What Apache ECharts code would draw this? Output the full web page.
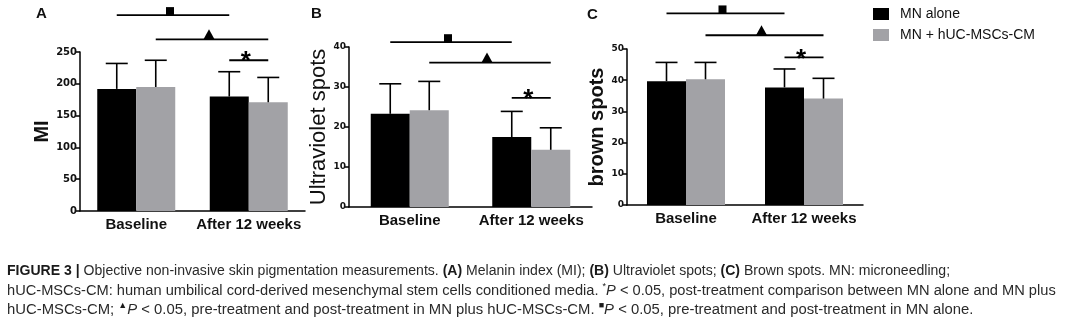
<!DOCTYPE html>
<html>
<head>
<meta charset="utf-8">
<script src="https://cdn.jsdelivr.net/npm/echarts@6/dist/echarts.min.js"></script>
<style>
  html, body { margin: 0; padding: 0; background: #fff; }
  #chart { width: 1080px; height: 327px; }
</style>
</head>
<body>
<div id="chart"></div>
<script>
// ---- data ----
const categories = ['Baseline', 'After 12 weeks'];
const groupNames = ['MN alone', 'MN + hUC-MSCs-CM'];

// (A) Melanin index (MI): mean and SD per time point
const miAlone = [192, 180];
const miAloneSd = [40, 39];
const miCombo = [195, 171];
const miComboSd = [42, 39];
const miTicks = [0, 50, 100, 150, 200, 250];

// (B) Ultraviolet spots
const uvAlone = [23.3, 17.5];
const uvAloneSd = [7.5, 6.4];
const uvCombo = [24.2, 14.3];
const uvComboSd = [7.2, 5.5];
const uvTicks = [0, 10, 20, 30, 40];

// (C) Brown spots
const brownAlone = [39.7, 37.7];
const brownAloneSd = [6.0, 5.9];
const brownCombo = [40.3, 34.1];
const brownComboSd = [5.4, 6.5];
const brownTicks = [0, 10, 20, 30, 40, 50];

// significance brackets: [category, group] endpoints (group 0 = MN alone, 1 = MN + hUC-MSCs-CM)
const miBrackets = [
  { from: [0, 0], to: [1, 0], level: 308, mark: 'square' },
  { from: [0, 1], to: [1, 1], level: 270, mark: 'triangle' },
  { from: [1, 0], to: [1, 1], level: 237, mark: 'star' }
];
const uvBrackets = [
  { from: [0, 0], to: [1, 0], level: 41.2, mark: 'square' },
  { from: [0, 1], to: [1, 1], level: 36.1, mark: 'triangle' },
  { from: [1, 0], to: [1, 1], level: 27.3, mark: 'star' }
];
const brownBrackets = [
  { from: [0, 0], to: [1, 0], level: 61.4, mark: 'square' },
  { from: [0, 1], to: [1, 1], level: 54.4, mark: 'triangle' },
  { from: [1, 0], to: [1, 1], level: 47.3, mark: 'star' }
];

// ---- styling / layout ----
const BAR_W = 39;
const INK = '#111';
const BLACK = '#000';
const GREY = '#a2a2a6';
const SANS = '"Liberation Sans", Arial, Helvetica, sans-serif';

const panels = [
  {
    letter: 'A', letterPos: [36, 6],
    rect: { left: 80, top: 52, width: 225, height: 159 },
    ticks: miTicks, tickFont: { fontFamily: '"DejaVu Sans", sans-serif', fontSize: 10 },
    title: 'MI', titleFont: { fontSize: 20, fontWeight: 'bold' }, nameGap: 27,
    alone: miAlone, aloneSd: miAloneSd, combo: miCombo, comboSd: miComboSd,
    brackets: miBrackets
  },
  {
    letter: 'B', letterPos: [311, 6],
    rect: { left: 349, top: 47, width: 243, height: 160 },
    ticks: uvTicks, tickFont: { fontFamily: '"DejaVu Sans", sans-serif', fontSize: 9 },
    title: 'Ultraviolet spots', titleFont: { fontSize: 22, fontWeight: 'normal' }, nameGap: 17,
    alone: uvAlone, aloneSd: uvAloneSd, combo: uvCombo, comboSd: uvComboSd,
    brackets: uvBrackets
  },
  {
    letter: 'C', letterPos: [587, 7],
    rect: { left: 627, top: 49, width: 236, height: 156 },
    ticks: brownTicks, tickFont: { fontFamily: '"DejaVu Sans", sans-serif', fontSize: 9 },
    title: 'brown spots', titleFont: { fontSize: 20, fontWeight: 'bold' }, nameGap: 20,
    alone: brownAlone, aloneSd: brownAloneSd, combo: brownCombo, comboSd: brownComboSd,
    brackets: brownBrackets
  }
];

const sideOffset = side => (side === 0 ? -1 : 1) * BAR_W / 2;

// upper-only error bars with a cap
function renderErrorBar(params, api) {
  const cat = api.value(0), side = api.value(1), mean = api.value(2), sd = api.value(3);
  const base = api.coord([cat, mean]);
  const top = api.coord([cat, mean + sd]);
  const x = base[0] + sideOffset(side);
  const style = { stroke: BLACK, lineWidth: 1.6 };
  return {
    type: 'group',
    children: [
      { type: 'line', shape: { x1: x, y1: base[1], x2: x, y2: top[1] }, style },
      { type: 'line', shape: { x1: x - 11, y1: top[1], x2: x + 11, y2: top[1] }, style }
    ]
  };
}

// significance brackets with their symbols
function makeBracketRenderer(list) {
  return function (params, api) {
    const item = list[params.dataIndex];
    const p1 = api.coord([item.from[0], item.level]);
    const p2 = api.coord([item.to[0], item.level]);
    const x1 = p1[0] + sideOffset(item.from[1]);
    const x2 = p2[0] + sideOffset(item.to[1]);
    const y = p1[1];
    const mx = (x1 + x2) / 2 - 3;
    const children = [
      { type: 'line', shape: { x1, y1: y, x2, y2: y }, style: { stroke: BLACK, lineWidth: 1.8 } }
    ];
    if (item.mark === 'square') {
      children.push({ type: 'rect', shape: { x: mx - 4, y: y - 8, width: 8, height: 8 }, style: { fill: BLACK } });
    } else if (item.mark === 'triangle') {
      children.push({ type: 'polygon', shape: { points: [[mx - 5.5, y], [mx + 5.5, y], [mx, y - 10]] }, style: { fill: BLACK } });
    } else {
      children.push({
        type: 'text',
        style: { text: '*', x: mx, y: y + 2, fontSize: 26, fontWeight: 'bold', fontFamily: SANS, fill: BLACK, align: 'center', verticalAlign: 'middle' }
      });
    }
    return { type: 'group', children };
  };
}

const grids = [], xAxes = [], yAxes = [], series = [], graphics = [];

panels.forEach((p, i) => {
  grids.push(Object.assign({ containLabel: false }, p.rect));

  xAxes.push({
    type: 'category', gridIndex: i, data: categories,
    axisLine: { lineStyle: { color: BLACK, width: 1.5 } },
    axisTick: { alignWithLabel: true, length: 4, lineStyle: { color: BLACK, width: 1.5 } },
    axisLabel: { interval: 0, fontFamily: SANS, fontWeight: 'bold', fontSize: 15, color: INK, margin: 6 }
  });

  yAxes.push({
    type: 'value', gridIndex: i,
    min: p.ticks[0], max: p.ticks[p.ticks.length - 1], interval: p.ticks[1] - p.ticks[0],
    splitLine: { show: false },
    axisLine: { show: true, lineStyle: { color: BLACK, width: 1.5 } },
    axisTick: { show: true, length: 4, lineStyle: { color: BLACK, width: 1.5 } },
    axisLabel: Object.assign({ fontWeight: 'bold', color: INK, margin: 3 }, p.tickFont),
    name: p.title, nameLocation: 'middle', nameGap: p.nameGap, nameRotate: 90,
    nameTextStyle: Object.assign({ fontFamily: SANS, color: INK }, p.titleFont)
  });

  series.push({
    type: 'bar', name: groupNames[0], xAxisIndex: i, yAxisIndex: i,
    data: p.alone, barWidth: BAR_W, barGap: '0%', itemStyle: { color: BLACK }, z: 2
  });
  series.push({
    type: 'bar', name: groupNames[1], xAxisIndex: i, yAxisIndex: i,
    data: p.combo, barWidth: BAR_W, barGap: '0%', itemStyle: { color: GREY }, z: 2
  });

  const errData = [];
  p.alone.forEach((v, c) => errData.push([c, 0, v, p.aloneSd[c]]));
  p.combo.forEach((v, c) => errData.push([c, 1, v, p.comboSd[c]]));
  series.push({
    type: 'custom', xAxisIndex: i, yAxisIndex: i, z: 3, silent: true,
    encode: { x: 0, y: 2 }, data: errData, renderItem: renderErrorBar
  });

  series.push({
    type: 'custom', xAxisIndex: i, yAxisIndex: i, z: 3, silent: true, clip: false,
    encode: { x: 0, y: 2 },
    data: p.brackets.map(b => [b.from[0], b.from[1], b.level]),
    renderItem: makeBracketRenderer(p.brackets)
  });

  graphics.push({
    type: 'text', left: p.letterPos[0], top: p.letterPos[1],
    style: { text: p.letter, fontFamily: SANS, fontWeight: 'bold', fontSize: 15, fill: INK }
  });
});

// figure caption
function captionRich(size) {
  return {
    b: { fontFamily: SANS, fontSize: size, fontWeight: 'bold', fill: '#1a1a1a' },
    i: { fontFamily: SANS, fontSize: size, fontStyle: 'italic', fill: '#2a2a2a' },
    sup: { fontFamily: SANS, fontSize: 9, fill: '#1a1a1a', verticalAlign: 'top', lineHeight: 9 }
  };
}
const captionLines = [
  { size: 14.05, text: '{b|FIGURE 3 |} Objective non-invasive skin pigmentation measurements. {b|(A)} Melanin index (MI); {b|(B)} Ultraviolet spots; {b|(C)} Brown spots. MN: microneedling;' },
  { size: 14.65, text: 'hUC-MSCs-CM: human umbilical cord-derived mesenchymal stem cells conditioned media. {sup|*}{i|P} < 0.05, post-treatment comparison between MN alone and MN plus' },
  { size: 14.85, text: 'hUC-MSCs-CM; {sup|▲}{i|P} < 0.05, pre-treatment and post-treatment in MN plus hUC-MSCs-CM. {sup|■}{i|P} < 0.05, pre-treatment and post-treatment in MN alone.' }
];
captionLines.forEach((line, k) => {
  graphics.push({
    type: 'text', left: 7, top: 263 + k * 19,
    style: {
      text: line.text, rich: captionRich(line.size), lineHeight: 17,
      fontFamily: SANS, fontSize: line.size, fill: '#2a2a2a'
    }
  });
});

const chart = echarts.init(document.getElementById('chart'), null, { renderer: 'canvas' });
chart.setOption({
  animation: false,
  backgroundColor: '#fff',
  legend: {
    data: groupNames, orient: 'vertical', left: 873, top: 7, padding: 0,
    icon: 'rect', itemWidth: 16, itemHeight: 12, itemGap: 7,
    textStyle: { fontFamily: SANS, fontSize: 14, color: INK, padding: [0, 0, 0, 6] }
  },
  grid: grids,
  xAxis: xAxes,
  yAxis: yAxes,
  series: series,
  graphic: graphics
});
</script>
</body>
</html>
